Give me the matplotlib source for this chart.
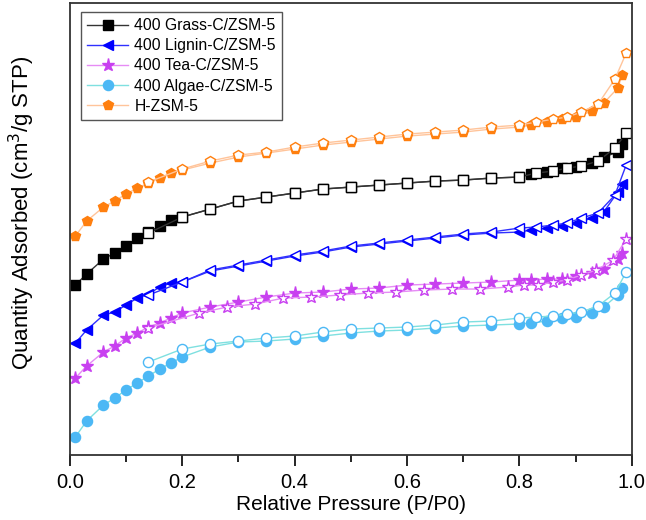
import matplotlib.pyplot as plt

plt.rcParams['font.family'] = ['Liberation Sans', 'DejaVu Sans']

# adsorption branch (filled markers)
ads_x = [0.01, 0.03, 0.06, 0.08, 0.10, 0.12, 0.14, 0.16, 0.18, 0.20, 0.25, 0.30, 0.35, 0.40, 0.45,
         0.50, 0.55, 0.60, 0.65, 0.70, 0.75, 0.80, 0.82, 0.85, 0.875, 0.90, 0.93, 0.95, 0.975, 0.983]
# desorption branch (open markers)
des_x = [0.99, 0.97, 0.94, 0.91, 0.885, 0.86, 0.83, 0.80, 0.75, 0.70, 0.65, 0.60, 0.55, 0.50,
         0.45, 0.40, 0.35, 0.30, 0.25, 0.20, 0.14]
tea_des_x = [0.99, 0.967, 0.937, 0.91, 0.884, 0.86, 0.833, 0.808, 0.78, 0.73, 0.68, 0.63, 0.58,
             0.53, 0.48, 0.43, 0.38, 0.33, 0.28, 0.23, 0.14]

grass_ads = [173, 184, 199, 205, 212, 220, 226, 232, 238, 241, 249, 257, 261, 265, 269,
             271, 273, 275, 277, 278, 280, 281, 284, 286, 290, 291, 295, 301, 306, 314]
grass_des = [325, 310, 297, 292, 290, 287, 285, 281, 280, 278, 277, 275, 273, 271,
             269, 265, 261, 257, 249, 241, 225]

lignin_ads = [115, 128, 143, 146, 153, 160, 164, 171, 175, 176, 187, 192, 197, 202, 206,
              211, 214, 217, 220, 223, 225, 226, 228, 230, 232, 235, 240, 246, 266, 274]
lignin_des = [293, 263, 245, 240, 235, 233, 231, 230, 226, 224, 221, 218, 215, 212,
              207, 203, 198, 193, 188, 176, 163]

tea_ads = [80, 92, 106, 112, 120, 125, 131, 135, 140, 145, 151, 156, 161, 165, 166,
           169, 170, 173, 174, 175, 176, 178, 178, 179, 179, 182, 185, 189, 199, 205]
tea_des = [219, 198, 188, 183, 178, 176, 173, 173, 171, 169, 169, 168, 166, 165,
           163, 161, 160, 154, 151, 145, 130]

algae_ads = [21, 37, 53, 60, 68, 75, 82, 89, 95, 101, 111, 116, 117, 119, 122,
             125, 127, 128, 130, 132, 133, 134, 135, 137, 140, 141, 145, 151, 163, 170]
algae_des = [186, 165, 152, 146, 144, 142, 141, 140, 137, 136, 133, 131, 130, 129,
             126, 122, 120, 117, 114, 109, 96]

hzsm_ads = [222, 237, 251, 257, 264, 270, 275, 280, 285, 288, 295, 301, 305, 309, 313,
            316, 319, 322, 324, 326, 329, 331, 333, 336, 339, 341, 347, 355, 370, 383]
hzsm_des = [405, 379, 354, 346, 341, 339, 336, 333, 331, 328, 326, 324, 321, 318,
            315, 311, 306, 303, 297, 289, 276]

labels = ['400 Grass-C/ZSM-5', '400 Lignin-C/ZSM-5', '400 Tea-C/ZSM-5',
          '400 Algae-C/ZSM-5', 'H-ZSM-5']

fig = plt.figure(figsize=(6.46, 5.2), dpi=100)
ax = fig.add_axes([0.108, 0.125, 0.870, 0.869])

series = [
    (grass_ads, des_x, grass_des, 's', 'black', '#333333', labels[0]),
    (lignin_ads, des_x, lignin_des, '<', '#0000ff', '#3030ff', labels[1]),
    (tea_ads, tea_des_x, tea_des, '*', '#c840f0', '#e68cf5', labels[2]),
    (algae_ads, des_x, algae_des, 'o', '#4cb8f5', '#7fe0e0', labels[3]),
    (hzsm_ads, des_x, hzsm_des, 'p', '#ff7f0e', '#ffc49a', labels[4]),
]

for ads, dx, des, mk, c, lc, lab in series:
    ms = 9.5 if mk == '*' else 7.3
    ax.plot(ads_x, ads, color=lc, lw=1, marker=mk, ms=ms, mfc=c, mec=c, label=lab)
    ax.plot(dx, des, color=lc, lw=1, marker=mk, ms=ms, mfc='white', mec=c, mew=1)

ax.set_xlim(0, 1.0)
ax.set_ylim(3, 455)
ax.set_yticks([])
ax.set_xticks([0.0, 0.2, 0.4, 0.6, 0.8, 1.0])
ax.set_xticks([0.1, 0.3, 0.5, 0.7, 0.9], minor=True)
ax.tick_params(axis='x', which='major', direction='out', length=8, width=1.2,
               labelsize=14.5, pad=5)
ax.tick_params(axis='x', which='minor', direction='out', length=5, width=1.2)
for s in ax.spines.values():
    s.set_linewidth(1.3)
    s.set_color('#333333')

ax.set_xlabel('Relative Pressure (P/P0)', fontsize=15, labelpad=2)
ax.set_ylabel('Quantity Adsorbed (cm$^3$/g STP)', fontsize=16)
ax.yaxis.set_label_coords(-0.058, 0.535)

leg = ax.legend(loc='upper left', bbox_to_anchor=(0.02, 0.98), fontsize=11.3,
                handlelength=2.6, borderaxespad=0, fancybox=False, framealpha=1,
                edgecolor='#555555', labelspacing=0.32, handletextpad=0.4)

plt.savefig('out.png', dpi=100)
